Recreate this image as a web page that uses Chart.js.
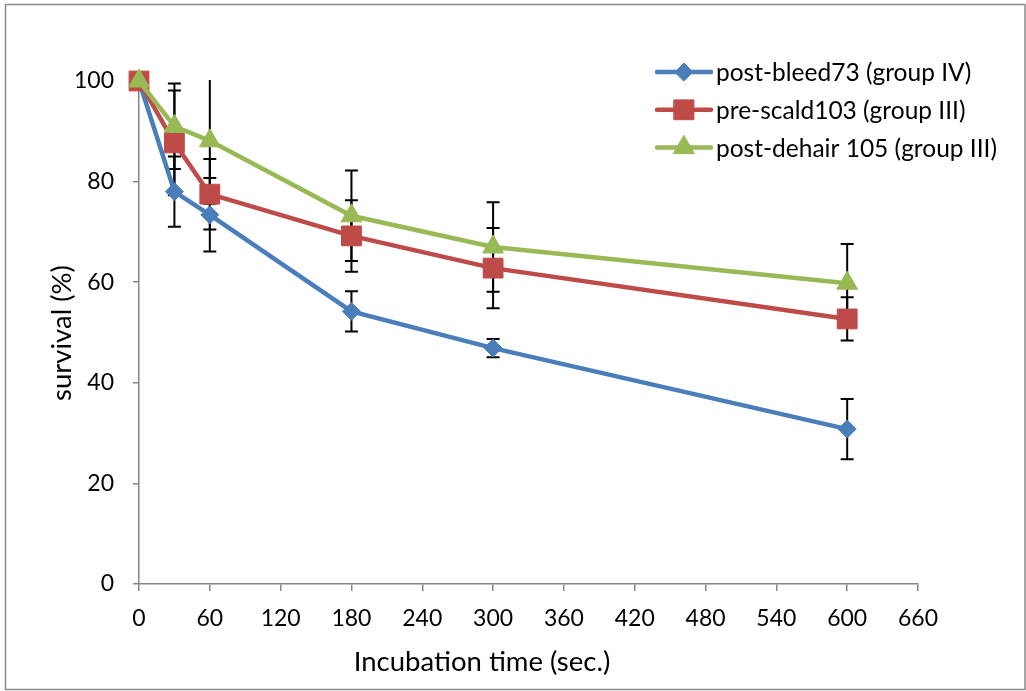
<!DOCTYPE html>
<html>
<head>
<meta charset="utf-8">
<script src="https://cdn.jsdelivr.net/npm/chart.js@4.4.1/dist/chart.umd.min.js"></script>
<style>
    html, body { margin: 0; padding: 0; background: #fff; }
    canvas { display: block; }
</style>
</head>
<body>
<canvas id="survivalChart" width="1026" height="691"></canvas>
<script>
// incubation times (sec.) and survival (%) per isolate, with SD
const times = [0, 30, 60, 180, 300, 600];
const bleed73 = [100, 78, 73.4, 54.2, 46.9, 30.8];
const bleed73Err = [0, 7, 7.3, 4, 1.8, 6];
const scald103 = [100, 87.7, 77.5, 69.2, 62.8, 52.7];
const scald103Err = [0, 10.4, 7, 7.1, 8, 4.3];
const dehair105 = [100, 91, 88.1, 73.2, 67, 59.8];
const dehair105Err = [0, 8.5, 12.5, 9, 8.9, 7.8];
const seriesNames = ['post-bleed73 (group IV)', 'pre-scald103 (group III)', 'post-dehair 105 (group III)'];

const FONT = 'Lato, "Open Sans", sans-serif';
const TICK_SIZE = 23;
const LEGEND_SIZE = 24.5;
const TITLE_SIZE = 27.5;
const AXIS_GREY = '#868686';

function toPoints(values) {
    return times.map((t, i) => ({ x: t, y: values[i] }));
}

// error bars go under the lines and markers
const errorBars = {
    id: 'errorBars',
    beforeDatasetsDraw(chart) {
        const { ctx, chartArea, scales } = chart;
        ctx.save();
        ctx.beginPath();
        ctx.rect(chartArea.left, chartArea.top - 1, chartArea.right - chartArea.left, chartArea.bottom - chartArea.top + 2);
        ctx.clip();
        ctx.strokeStyle = '#000';
        ctx.lineWidth = 2;
        chart.data.datasets.forEach(ds => {
            ds.data.forEach((p, j) => {
                const err = ds.errorBars[j];
                if (!err) return;
                const x = scales.x.getPixelForValue(p.x);
                const yHi = scales.y.getPixelForValue(p.y + err);
                const yLo = scales.y.getPixelForValue(p.y - err);
                ctx.beginPath();
                ctx.moveTo(x, yHi);
                ctx.lineTo(x, yLo);
                ctx.moveTo(x - 6.5, yHi);
                ctx.lineTo(x + 6.5, yHi);
                ctx.moveTo(x - 6.5, yLo);
                ctx.lineTo(x + 6.5, yLo);
                ctx.stroke();
            });
        });
        ctx.restore();
    }
};

// legend with line + marker, axis titles and the outer frame
const decorations = {
    id: 'decorations',
    afterDraw(chart) {
        const ctx = chart.ctx;
        ctx.save();

        // frame
        ctx.strokeStyle = '#8a8a8a';
        ctx.lineWidth = 1.5;
        ctx.strokeRect(5.5, 4.5, 1019.5, 685);

        // legend
        ctx.font = LEGEND_SIZE + 'px ' + FONT;
        ctx.textBaseline = 'middle';
        chart.data.datasets.forEach((ds, i) => {
            const y = 72 + i * 37.8;
            ctx.strokeStyle = ds.borderColor;
            ctx.lineWidth = ds.borderWidth;
            ctx.lineCap = 'round';
            ctx.beginPath();
            ctx.moveTo(657, y);
            ctx.lineTo(711, y);
            ctx.stroke();
            ctx.fillStyle = ds.pointBackgroundColor;
            ctx.strokeStyle = ds.pointBackgroundColor;
            ctx.lineWidth = 1;
            Chart.helpers.drawPoint(ctx, {
                pointStyle: ds.pointStyle,
                radius: ds.pointRadius,
                rotation: 0,
                borderWidth: 1
            }, 684, y);
            ctx.fillStyle = '#000';
            ctx.textAlign = 'left';
            ctx.fillText(ds.label, 716, y + 1);
        });

        // axis titles
        ctx.font = TITLE_SIZE + 'px ' + FONT;
        ctx.fillStyle = '#000';
        ctx.textAlign = 'center';
        ctx.fillText('Incubation time (sec.)', 482, 662);
        ctx.translate(62, 333);
        ctx.rotate(-Math.PI / 2);
        ctx.fillText('survival (%)', 0, 0);

        ctx.restore();
    }
};

const ctx = document.getElementById('survivalChart');
new Chart(ctx, {
    type: 'line',
    data: {
        datasets: [{
            label: seriesNames[0],
            data: toPoints(bleed73),
            errorBars: bleed73Err,
            borderColor: '#4a7ebb',
            pointBackgroundColor: '#4a7ebb',
            pointBorderColor: '#4a7ebb',
            pointStyle: 'rectRot',
            pointRadius: 9,
            order: 2
        }, {
            label: seriesNames[1],
            data: toPoints(scald103),
            errorBars: scald103Err,
            borderColor: '#be4b48',
            pointBackgroundColor: '#be4b48',
            pointBorderColor: '#be4b48',
            pointStyle: 'rect',
            pointRadius: 14,
            order: 1
        }, {
            label: seriesNames[2],
            data: toPoints(dehair105),
            errorBars: dehair105Err,
            borderColor: '#98b954',
            pointBackgroundColor: '#98b954',
            pointBorderColor: '#98b954',
            pointStyle: 'triangle',
            pointRadius: 12,
            order: 0
        }].map(ds => Object.assign(ds, {
            borderWidth: 4.5,
            pointBorderWidth: 1,
            pointHoverRadius: ds.pointRadius,
            tension: 0,
            clip: false
        }))
    },
    options: {
        responsive: false,
        animation: false,
        events: [],
        layout: {
            padding: { left: 0, top: 81, right: 108, bottom: 0 }
        },
        plugins: {
            legend: { display: false },
            tooltip: { enabled: false }
        },
        scales: {
            x: {
                type: 'linear',
                min: 0,
                max: 660,
                afterFit(scale) { scale.height = 107; },
                ticks: {
                    stepSize: 60,
                    color: '#000',
                    padding: 14,
                    maxRotation: 0,
                    font: { family: FONT, size: TICK_SIZE }
                },
                grid: {
                    drawOnChartArea: false,
                    drawTicks: true,
                    tickLength: 7,
                    color: AXIS_GREY,
                    lineWidth: 1.5
                },
                border: { color: AXIS_GREY, width: 1.5 }
            },
            y: {
                min: 0,
                max: 100,
                afterFit(scale) { scale.width = 139; },
                ticks: {
                    stepSize: 20,
                    color: '#000',
                    padding: 19,
                    font: { family: FONT, size: TICK_SIZE }
                },
                grid: {
                    drawOnChartArea: false,
                    drawTicks: true,
                    tickLength: 6,
                    color: AXIS_GREY,
                    lineWidth: 1.5
                },
                border: { color: AXIS_GREY, width: 1.5 }
            }
        }
    },
    plugins: [errorBars, decorations]
});
</script>
</body>
</html>
